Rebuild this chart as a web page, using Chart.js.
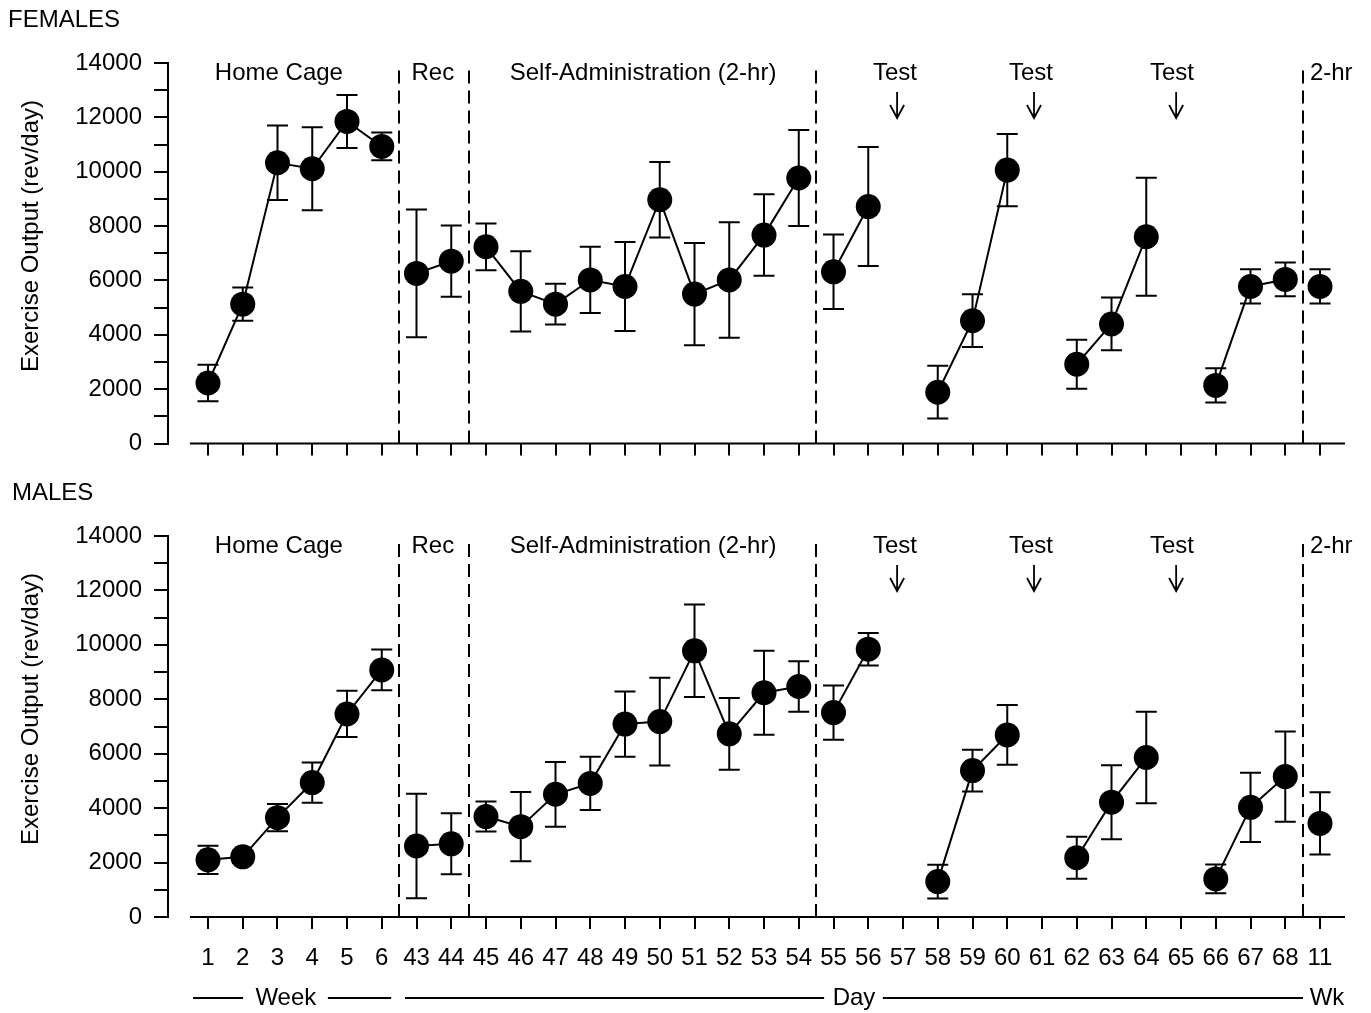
<!DOCTYPE html>
<html>
<head>
<meta charset="utf-8">
<script src="https://cdn.jsdelivr.net/npm/chart.js@4.4.1/dist/chart.umd.min.js"></script>
<style>
  html, body { margin: 0; padding: 0; background: #fff; overflow: hidden; }
  .panel { position: absolute; left: 0; width: 1371px; }
  .panel canvas { display: block; }
  #top { top: 0; height: 470px; }
  #bottom { top: 470px; height: 543px; }
</style>
</head>
<body>
<div class="panel" id="top"><canvas id="females"></canvas></div>
<div class="panel" id="bottom"><canvas id="males"></canvas></div>
<script>
// x categories: weeks 1-6, days 43-68, week 11
const categories = ['1','2','3','4','5','6','43','44','45','46','47','48','49','50','51','52','53','54',
  '55','56','57','58','59','60','61','62','63','64','65','66','67','68','11'];

// mean exercise output (rev/day) and error (+/-)
const femalesMean = [2230, 5130, 10330, 10110, 11850, 10930, 6260, 6710,
  7240, 5600, 5130, 6020, 5780, 8970, 5500, 6020, 7670, 9770,
  6320, 8720, null, 1890, 4520, 10060, null, 2920, 4400, 7610, null, 2140, 5780, 6040, 5780];
const femalesErr = [670, 610, 1370, 1525, 975, 510, 2350, 1310,
  860, 1480, 750, 1220, 1640, 1390, 1880, 2125, 1500, 1770,
  1370, 2190, null, 970, 970, 1330, null, 900, 970, 2170, null, 630, 630, 620, 630];

const malesMean = [2100, 2210, 3650, 4940, 7460, 9080, 2610, 2690,
  3690, 3320, 4510, 4910, 7090, 7180, 9780, 6730, 8240, 8470,
  7510, 9840, null, 1300, 5380, 6690, null, 2180, 4220, 5860, null, 1400, 4030, 5160, 3440];
const malesErr = [520, 230, 500, 740, 850, 750, 1920, 1120,
  550, 1270, 1190, 980, 1200, 1610, 1700, 1320, 1540, 930,
  1000, 600, null, 620, 770, 1100, null, 770, 1360, 1680, null, 530, 1270, 1660, 1140];

// category index where a new phase starts (dashed separator, no connecting line)
const phaseStarts = [6, 8, 18, 32];

const yMax = 14000;
const yStep = 1000;
const yLabelStep = 2000;

const FONT = "'Liberation Sans', Arial, Helvetica, sans-serif";
Chart.defaults.font.family = FONT;
Chart.defaults.font.size = 24;
Chart.defaults.color = '#000';

const panelDecor = {
  id: 'panelDecor',
  beforeDatasetsDraw(chart) {
    const { ctx, scales: { x, y } } = chart;
    const ds = chart.data.datasets[0];
    ctx.save();
    ctx.strokeStyle = '#000';
    ctx.lineWidth = 2;
    ds.data.forEach((p, i) => {
      if (p.y === null) return;
      const e = ds.errors[i];
      const px = x.getPixelForValue(p.x);
      const y1 = y.getPixelForValue(p.y + e);
      const y2 = y.getPixelForValue(p.y - e);
      ctx.beginPath();
      ctx.moveTo(px, y1); ctx.lineTo(px, y2);
      ctx.moveTo(px - 10.5, y1); ctx.lineTo(px + 10.5, y1);
      ctx.moveTo(px - 10.5, y2); ctx.lineTo(px + 10.5, y2);
      ctx.stroke();
    });
    ctx.restore();
  },
  afterDraw(chart, args, opts) {
    const { ctx, chartArea: a, scales: { x } } = chart;
    ctx.save();
    ctx.strokeStyle = '#000';
    ctx.fillStyle = '#000';
    ctx.lineWidth = 2;

    // x axis line
    ctx.beginPath();
    ctx.moveTo(x.getPixelForValue(-0.52), a.bottom);
    ctx.lineTo(a.right, a.bottom);
    ctx.stroke();

    // dashed phase separators
    ctx.setLineDash([13, 7]);
    phaseStarts.forEach(i => {
      const px = Math.round(x.getPixelForValue(i - 0.5));
      ctx.beginPath();
      ctx.moveTo(px, a.bottom);
      ctx.lineTo(px, a.top + 6);
      ctx.stroke();
    });
    ctx.setLineDash([]);

    ctx.font = '24px ' + FONT;
    ctx.textBaseline = 'middle';
    ctx.textAlign = 'center';
    const ty = a.top + 10;
    ctx.fillText('Home Cage', x.getPixelForValue(2.04), ty);
    ctx.fillText('Rec', x.getPixelForValue(6.47), ty);
    ctx.fillText('Self-Administration (2-hr)', x.getPixelForValue(12.52), ty);
    [[19.77, 19.83], [23.68, 23.77], [27.74, 27.86]].forEach(([tx, ax]) => {
      ctx.fillText('Test', x.getPixelForValue(tx), ty);
      const px = x.getPixelForValue(ax);
      ctx.lineWidth = 1.8;
      ctx.beginPath();
      ctx.moveTo(px, a.top + 29); ctx.lineTo(px, a.top + 55);
      ctx.moveTo(px - 7, a.top + 42); ctx.lineTo(px, a.top + 55); ctx.lineTo(px + 7, a.top + 42);
      ctx.stroke();
    });
    ctx.lineWidth = 2;
    ctx.textAlign = 'left';
    ctx.fillText('2-hr', x.getPixelForValue(31.71), ty);

    // panel title
    ctx.fillText(opts.title, opts.titleX, opts.titleY);

    // y axis title
    ctx.save();
    ctx.translate(31, a.top + 173);
    ctx.rotate(-Math.PI / 2);
    ctx.textAlign = 'center';
    ctx.fillText('Exercise Output (rev/day)', 0, 0);
    ctx.restore();

    // Week / Day / Wk line under the axis
    if (opts.timeLine) {
      const ly = a.bottom + 81;
      [[-0.43, 1.01], [3.45, 5.27], [5.67, 17.73], [19.42, 31.51]].forEach(([s, e]) => {
        ctx.beginPath();
        ctx.moveTo(x.getPixelForValue(s), ly);
        ctx.lineTo(x.getPixelForValue(e), ly);
        ctx.stroke();
      });
      ctx.textAlign = 'center';
      ctx.fillText('Week', x.getPixelForValue(2.24), ly);
      ctx.fillText('Day', x.getPixelForValue(18.59), ly);
      ctx.fillText('Wk', x.getPixelForValue(32.2), ly);
    }
    ctx.restore();
  }
};

function makeChart(canvasId, means, errs, deco, padTop, xHeight, showLabels) {
  const ctx = document.getElementById(canvasId).getContext('2d');
  return new Chart(ctx, {
    type: 'line',
    data: {
      datasets: [{
        data: means.map((v, i) => ({ x: i, y: v })),
        errors: errs,
        borderColor: '#000',
        borderWidth: 2,
        pointRadius: 12.5,
        pointHoverRadius: 12.5,
        pointBackgroundColor: '#000',
        pointBorderWidth: 0,
        spanGaps: false,
        segment: {
          borderColor: c => phaseStarts.includes(c.p1DataIndex) ? 'rgba(0,0,0,0)' : '#000'
        }
      }]
    },
    options: {
      responsive: true,
      maintainAspectRatio: false,
      animation: false,
      events: [],
      layout: { padding: { top: padTop, right: 26, left: 0, bottom: 0 } },
      plugins: {
        legend: { display: false },
        tooltip: { enabled: false },
        panelDecor: deco
      },
      scales: {
        x: {
          type: 'linear',
          min: -1.151,
          max: 32.719,
          afterBuildTicks: s => { s.ticks = categories.map((_, i) => ({ value: i })); },
          afterFit: s => { s.height = xHeight; },
          border: { display: false },
          grid: { drawOnChartArea: false, drawTicks: true, tickLength: 12, color: '#000', lineWidth: 2 },
          ticks: {
            display: showLabels,
            autoSkip: false,
            maxRotation: 0,
            minRotation: 0,
            padding: 15,
            callback: v => categories[v]
          }
        },
        y: {
          min: 0,
          max: yMax,
          afterFit: s => { s.width = 168; },
          border: { display: true, color: '#000', width: 2 },
          grid: { drawOnChartArea: false, drawTicks: true, tickLength: 14, color: '#000', lineWidth: 2 },
          ticks: {
            stepSize: yStep,
            autoSkip: false,
            padding: 12,
            callback: v => (v % yLabelStep === 0 ? String(v) : '')
          }
        }
      }
    },
    plugins: [panelDecor]
  });
}

makeChart('females', femalesMean, femalesErr,
  { title: 'FEMALES', titleX: 8, titleY: 20, timeLine: false }, 63, 25, false);
makeChart('males', malesMean, malesErr,
  { title: 'MALES', titleX: 12, titleY: 23, timeLine: true }, 66, 96, true);
</script>
</body>
</html>
